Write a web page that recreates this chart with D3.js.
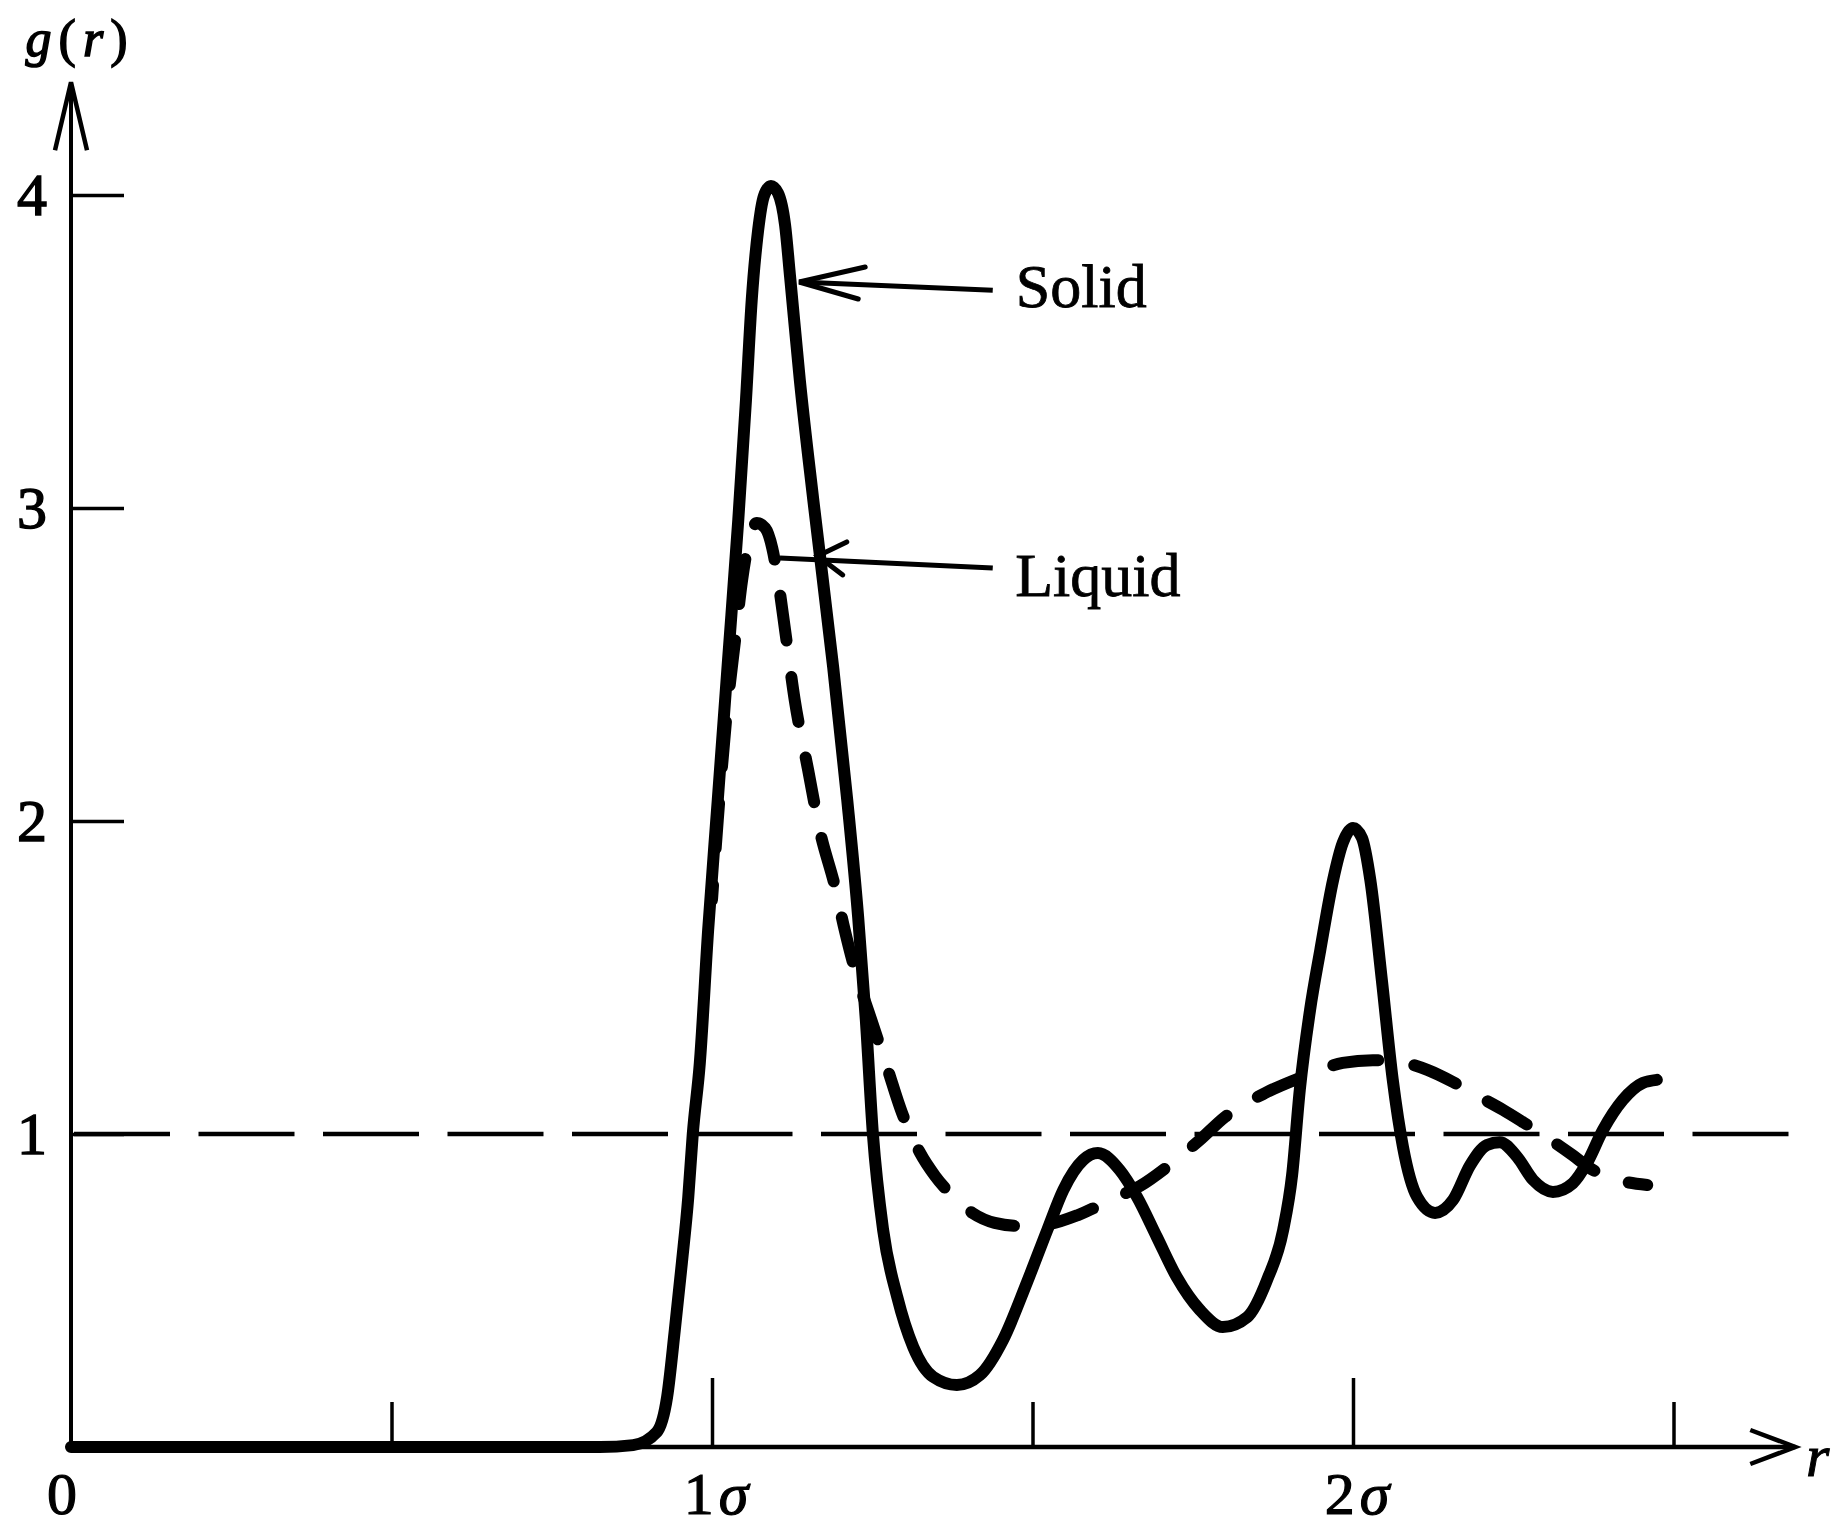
<!DOCTYPE html>
<html>
<head>
<meta charset="utf-8">
<script src="https://cdn.jsdelivr.net/npm/d3@7"></script>
<style>
html,body{margin:0;padding:0;background:#fff;}
svg{display:block;}
</style>
</head>
<body>
<script>
// ---- data (r in units of sigma, g(r)) ----
const solidR = [0,0.825,0.877,0.914,0.930,0.942,0.953,0.963,0.970,0.981,0.994,1.009,1.025,1.041,1.053,1.062,1.072,1.081,1.092,1.103,1.114,1.122,1.137,1.158,1.189,1.211,1.228,1.240,1.251,1.267,1.289,1.314,1.345,1.382,1.418,1.454,1.491,1.523,1.548,1.579,1.602,1.636,1.663,1.694,1.725,1.761,1.797,1.835,1.866,1.891,1.905,1.917,1.933,1.949,1.969,1.984,2.000,2.014,2.027,2.045,2.062,2.078,2.100,2.128,2.156,2.183,2.209,2.229,2.256,2.281,2.312,2.343,2.365,2.390,2.421,2.452,2.474];
const solidG = [0,0,0.006,0.048,0.160,0.374,0.588,0.799,1.000,1.227,1.652,2.067,2.514,2.962,3.345,3.665,3.888,3.997,4.029,4.006,3.904,3.735,3.409,3.026,2.492,2.067,1.693,1.364,1.000,0.693,0.479,0.319,0.224,0.198,0.230,0.342,0.524,0.693,0.821,0.917,0.939,0.885,0.799,0.671,0.543,0.438,0.383,0.415,0.534,0.693,0.869,1.141,1.396,1.588,1.812,1.930,1.978,1.946,1.812,1.492,1.173,0.958,0.799,0.748,0.789,0.901,0.965,0.974,0.927,0.853,0.815,0.843,0.907,1.013,1.109,1.163,1.173];

const liquidR = [1.000,1.009,1.022,1.036,1.047,1.058,1.070,1.083,1.094,1.103,1.114,1.129,1.150,1.168,1.192,1.207,1.223,1.246,1.273,1.296,1.324,1.348,1.374,1.406,1.441,1.480,1.516,1.571,1.621,1.668,1.714,1.761,1.800,1.863,1.917,1.984,2.031,2.073,2.117,2.156,2.195,2.234,2.265,2.304,2.342,2.371,2.402,2.459];
const liquidG = [1.748,2.003,2.323,2.578,2.770,2.898,2.952,2.936,2.872,2.770,2.610,2.387,2.163,1.971,1.789,1.652,1.524,1.380,1.214,1.070,0.942,0.866,0.805,0.748,0.716,0.706,0.709,0.741,0.789,0.834,0.901,0.981,1.054,1.131,1.179,1.227,1.236,1.230,1.204,1.166,1.121,1.077,1.038,0.987,0.933,0.889,0.860,0.837];

const referenceG = 1;            // dashed g(r) = 1 line
const referenceREnd = 2.68;
const yTickValues = [1, 2, 3, 4];
const yTickLabels = ["1", "2", "3", "4"];
const xMinorTicks = [0.5, 1.5, 2.5];
const xMajorTicks = [1, 2];
const xLabelValues = [0, 1, 2];
const xLabelNumbers = ["0", "1", "2"];
const xLabelUnits = ["", "σ", "σ"];
const xAxisEnd = 2.69;
const yAxisEnd = 4.36;

// annotations (data units)
const noteNames = ["Solid", "Liquid"];
const noteTip = [[1.136, 3.722], [1.165, 2.847]];
const noteStart = [[1.136, 3.722], [1.106, 2.840]];
const noteTail = [[1.438, 3.696], [1.438, 2.808]];
const noteText = [[1.474, 3.642], [1.473, 2.719]];
const noteArm = [[[66, -15], [59, 17]], [[29, -14], [25, 19]]];

// ---- drawing ----
const W = 1831, H = 1529;
const svg = d3.select("body").append("svg").attr("width", W).attr("height", H);
const x = d3.scaleLinear().domain([0, 1]).range([71, 712]);
const y = d3.scaleLinear().domain([0, 1]).range([1447, 1134]);
const FONT = "'Liberation Serif','Times New Roman',serif";

// axes lines with arrows
svg.append("line").attr("x1", x(0)).attr("y1", y(0)).attr("x2", x(xAxisEnd)).attr("y2", y(0))
  .attr("stroke", "#000").attr("stroke-width", 4.5);
svg.append("path").attr("d", d3.line()([[x(xAxisEnd) - 45, y(0) - 17], [x(xAxisEnd), y(0)], [x(xAxisEnd) - 45, y(0) + 17]]))
  .attr("fill", "none").attr("stroke", "#000").attr("stroke-width", 4.5).attr("stroke-linejoin", "miter");
svg.append("line").attr("x1", x(0)).attr("y1", y(0)).attr("x2", x(0)).attr("y2", y(yAxisEnd))
  .attr("stroke", "#000").attr("stroke-width", 4);
svg.append("path").attr("d", d3.line()([[x(0) - 16, y(yAxisEnd) + 68], [x(0), y(yAxisEnd)], [x(0) + 16, y(yAxisEnd) + 68]]))
  .attr("fill", "none").attr("stroke", "#000").attr("stroke-width", 4.5);

// y ticks via axis
const yAxis = d3.axisLeft(y).tickValues(yTickValues).tickSizeInner(-53).tickSizeOuter(0).tickPadding(24)
  .tickFormat((d, i) => yTickLabels[i]);
const gy = svg.append("g").attr("transform", `translate(${x(0)},0)`).call(yAxis);
gy.select(".domain").remove();
gy.selectAll(".tick line").attr("stroke", "#000").attr("stroke-width", 3.5);
gy.selectAll(".tick text").attr("font-family", FONT).attr("font-size", 60).attr("fill", "#000")
  .attr("stroke", "#000").attr("stroke-width", 1.4).attr("dy", "0.33em");

// x ticks via axes
const gxMinor = svg.append("g").attr("transform", `translate(0,${y(0)})`)
  .call(d3.axisBottom(x).tickValues(xMinorTicks).tickSizeInner(-45).tickSizeOuter(0).tickFormat(""));
const gxMajor = svg.append("g").attr("transform", `translate(0,${y(0)})`)
  .call(d3.axisBottom(x).tickValues(xMajorTicks).tickSizeInner(-69).tickSizeOuter(0).tickFormat(""));
[gxMinor, gxMajor].forEach(g => {
  g.select(".domain").remove();
  g.selectAll(".tick line").attr("stroke", "#000").attr("stroke-width", 3.5);
});

// x labels
const xl = svg.append("g").selectAll("text").data(xLabelValues).join("text")
  .attr("x", (d, i) => x(d) + (i === 0 ? -9 : 4)).attr("y", y(0) + 67)
  .attr("text-anchor", "middle").attr("font-family", FONT).attr("font-size", 60).attr("fill", "#000")
  .attr("stroke", "#000").attr("stroke-width", 1.2);
xl.append("tspan").text((d, i) => xLabelNumbers[i]);
xl.append("tspan").attr("font-style", "italic").attr("dx", (d, i) => i ? 5 : 0).text((d, i) => xLabelUnits[i]);

// axis titles
const gt = svg.append("text").attr("x", 80).attr("y", 56).attr("text-anchor", "middle")
  .attr("font-family", FONT).attr("font-size", 52).attr("letter-spacing", 7).attr("fill", "#000")
  .attr("stroke", "#000").attr("stroke-width", 1.5);
gt.append("tspan").attr("font-style", "italic").text("g");
gt.append("tspan").text("(");
gt.append("tspan").attr("font-style", "italic").text("r");
gt.append("tspan").text(")");
svg.append("text").attr("x", 1806).attr("y", 1476).attr("font-family", FONT).attr("font-style", "italic")
  .attr("font-size", 60).attr("fill", "#000").attr("stroke", "#000").attr("stroke-width", 1).text("r");

// reference dashed line g = 1
svg.append("line").attr("x1", x(0) + 3).attr("y1", y(referenceG)).attr("x2", x(referenceREnd)).attr("y2", y(referenceG))
  .attr("stroke", "#000").attr("stroke-width", 4.5).attr("stroke-dasharray", "96,28.5");

// curves
const line = d3.line().x(d => x(d[0])).y(d => y(d[1])).curve(d3.curveMonotoneX);
const liq = svg.append("path").datum(liquidR.map((r, i) => [r, liquidG[i]])).attr("d", line)
  .attr("fill", "none").attr("stroke", "#000").attr("stroke-width", 12)
  .attr("stroke-linecap", "round");
// dash pattern: one dash centred on the liquid peak, and one dash ending at the curve's end
(function () {
  const node = liq.node(), L = node.getTotalLength();
  let best = 0, bestY = Infinity;
  for (let s = 0; s < L * 0.3; s += 1) { const p = node.getPointAtLength(s); if (p.y < bestY) { bestY = p.y; best = s; } }
  const dashFrac = 46 / 83;
  const n = Math.round((L - best - 17) / 83);
  const period = (L - best - 17) / n;
  const dash = period * dashFrac, gap = period - dash;
  const want = dash / 2;
  const off = ((want - best) % period + period) % period;
  liq.attr("stroke-dasharray", `${dash},${gap}`).attr("stroke-dashoffset", -off);
})();
svg.append("path").datum(solidR.map((r, i) => [r, solidG[i]])).attr("d", line)
  .attr("fill", "none").attr("stroke", "#000").attr("stroke-width", 12)
  .attr("stroke-linecap", "round").attr("stroke-linejoin", "round");

// annotations
noteNames.forEach((name, i) => {
  const tip = [x(noteTip[i][0]), y(noteTip[i][1])];
  svg.append("path").attr("d", d3.line()([[x(noteStart[i][0]), y(noteStart[i][1])], [x(noteTail[i][0]), y(noteTail[i][1])]]))
    .attr("stroke", "#000").attr("stroke-width", 5).attr("fill", "none");
  svg.append("path").attr("d", d3.line()([[tip[0] + noteArm[i][0][0], tip[1] + noteArm[i][0][1]], tip, [tip[0] + noteArm[i][1][0], tip[1] + noteArm[i][1][1]]]))
    .attr("stroke", "#000").attr("stroke-width", 5).attr("fill", "none").attr("stroke-linecap", "round");
  svg.append("text").attr("x", x(noteText[i][0])).attr("y", y(noteText[i][1]))
    .attr("font-family", FONT).attr("font-size", 62).attr("fill", "#000")
    .attr("stroke", "#000").attr("stroke-width", 0.8).text(name);
});
</script>
</body>
</html>
